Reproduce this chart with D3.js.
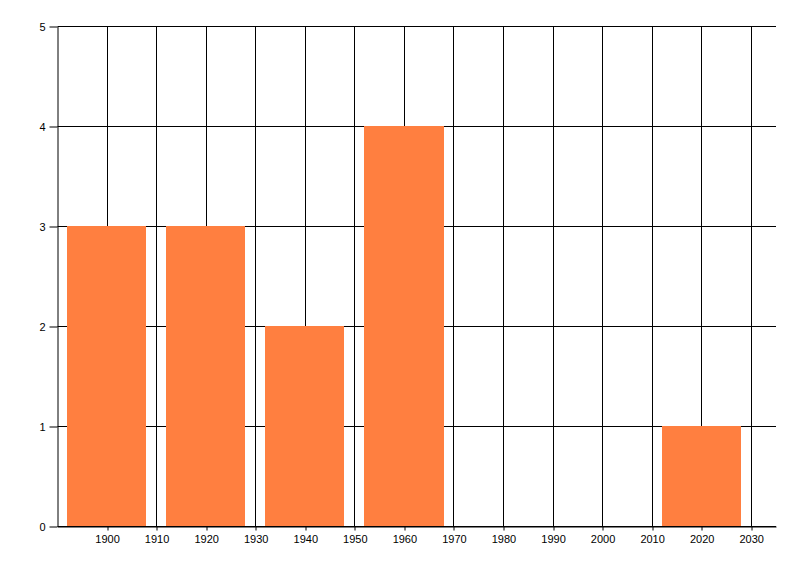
<!DOCTYPE html>
<html>
<head>
<meta charset="utf-8">
<script src="https://cdn.jsdelivr.net/npm/d3@7"></script>
<style>
  body { margin: 0; background: #fff; }
  .axis text { font-family: "Liberation Sans", Arial, sans-serif; font-size: 11px; fill: #000; }
  .axis path, .axis line { stroke: #000; }
</style>
</head>
<body>
<svg id="chart"></svg>
<script>
// decades and how many in each
const years = [1900, 1920, 1940, 1960, 2020];
const counts = [3, 3, 2, 4, 1];
const xTicks = [1900, 1910, 1920, 1930, 1940, 1950, 1960, 1970, 1980, 1990, 2000, 2010, 2020, 2030];
const yTicks = [0, 1, 2, 3, 4, 5];
const barSpan = 16; // years wide

const width = 800, height = 576;
const margin = { top: 26.5, right: 24, bottom: 49.5, left: 57.5 };
const chart_width = width - margin.left - margin.right;
const chart_height = height - margin.top - margin.bottom; // 500

const svg = d3.select("#chart")
  .attr("width", width)
  .attr("height", height)
  .append("g")
  .attr("transform", "translate(" + margin.left + "," + margin.top + ")");

const xScale = d3.scaleLinear().domain([1890, 2035]).range([0, chart_width]);
const yScale = d3.scaleLinear().domain([0, 5]).range([chart_height, 0]);
const snapX = d => Math.round(xScale(d));

// grid
svg.append("g")
  .selectAll("line.v")
  .data(xTicks)
  .join("line")
  .attr("x1", snapX)
  .attr("x2", snapX)
  .attr("y1", 0)
  .attr("y2", chart_height)
  .attr("stroke", "#000");

svg.append("g")
  .selectAll("line.h")
  .data(yTicks)
  .join("line")
  .attr("x1", 0)
  .attr("x2", chart_width)
  .attr("y1", d => yScale(d))
  .attr("y2", d => yScale(d))
  .attr("stroke", "#000");

// bars
const data = years.map((y, i) => ({ year: y, n: counts[i] }));
svg.append("g")
  .selectAll("rect")
  .data(data)
  .join("rect")
  .attr("x", d => Math.round(xScale(d.year - barSpan / 2)) - 0.5)
  .attr("width", d => Math.round(xScale(d.year + barSpan / 2)) - Math.round(xScale(d.year - barSpan / 2)))
  .attr("y", d => yScale(d.n) - 0.5)
  .attr("height", d => chart_height - yScale(d.n))
  .attr("fill", "#ff7f40");

// axes
svg.append("g")
  .attr("class", "axis x-axis")
  .attr("transform", "translate(0," + chart_height + ")")
  .call(d3.axisBottom(xScale).tickValues(xTicks).tickFormat(d3.format("d")).tickSize(4).tickSizeOuter(0).tickPadding(5))
  .call(g => g.selectAll(".tick line").attr("transform", d => "translate(" + (snapX(d) - xScale(d)) + ",0)"));

svg.append("g")
  .attr("class", "axis y-axis")
  .call(d3.axisLeft(yScale).tickValues(yTicks).tickFormat(d3.format("d")).tickSize(8).tickSizeOuter(0).tickPadding(4));

svg.selectAll(".axis .domain").attr("stroke-width", 1);
</script>
</body>
</html>
